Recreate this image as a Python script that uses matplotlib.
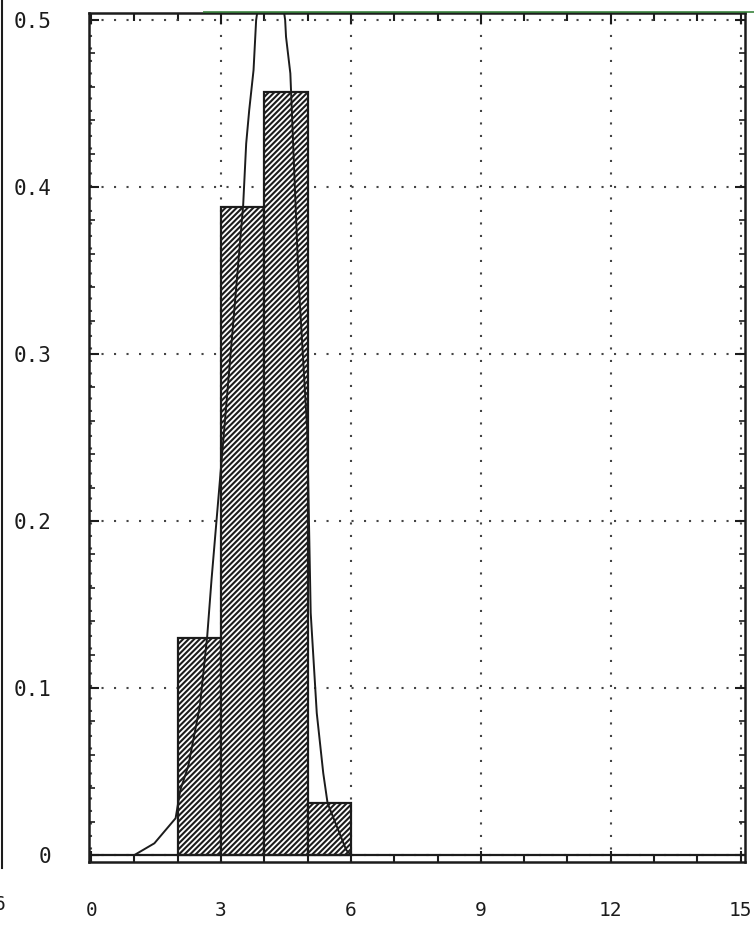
import matplotlib
matplotlib.use('Agg')
import matplotlib.pyplot as plt
from matplotlib.lines import Line2D
from matplotlib.ticker import MultipleLocator

# histogram bins (left edges, width 1) and relative frequencies
bin_left = [2, 3, 4, 5]
bar_heights = [0.13, 0.388, 0.457, 0.031]

# fitted density curve (peak is clipped at the top)
curve_x = [0.0, 1.0, 1.46, 1.95, 2.06, 2.24, 2.51, 2.68, 2.78, 3.51, 3.58, 3.65,
		   3.75, 3.81, 4.15, 4.48, 4.5, 4.6, 4.79, 4.99, 5.07, 5.21, 5.36, 5.46,
		   5.89, 6.0, 15.0]
curve_y = [0.0, 0.0, 0.007, 0.022, 0.039, 0.053, 0.089, 0.131, 0.165, 0.389, 0.426, 0.446,
		   0.47, 0.5, 0.56, 0.5, 0.49, 0.468, 0.344, 0.254, 0.145, 0.085, 0.049, 0.031,
		   0.003, 0.0, 0.0]

x_ticks = [0, 3, 6, 9, 12, 15]
y_ticks = [0, 0.1, 0.2, 0.3, 0.4, 0.5]
y_labels = ['0', '0.1', '0.2', '0.3', '0.4', '0.5']

ink = '#1c1c1c'
mono = ['DejaVu Sans Mono']

plt.rcParams['hatch.linewidth'] = 1.5
plt.rcParams['hatch.color'] = ink

fig = plt.figure(figsize=(7.54, 9.33), dpi=100)
ax = fig.add_axes([89 / 754, 1 - 862 / 933, 656 / 754, 849 / 933])

ax.bar(bin_left, bar_heights, width=1.0, align='edge', facecolor='white',
	   edgecolor=ink, linewidth=1.6, hatch='//////', zorder=2)

ax.plot(curve_x, curve_y, color=ink, linewidth=1.4, zorder=3)
ax.axhline(0, color=ink, linewidth=1.6, zorder=4)

ax.set_xlim(-0.05, 15.1)
ax.set_ylim(-0.0042, 0.5042)

ax.set_xticks(x_ticks)
ax.set_xticklabels([str(t) for t in x_ticks], family=mono, fontsize=14, color=ink)
ax.xaxis.set_minor_locator(MultipleLocator(1))
ax.set_yticks(y_ticks)
ax.set_yticklabels(y_labels, family=mono, fontsize=15, color=ink)
ax.yaxis.set_minor_locator(MultipleLocator(0.02))

ax.tick_params(axis='x', which='major', direction='in', length=8, width=1.5,
			   top=True, bottom=True, pad=28, colors=ink)
ax.tick_params(axis='x', which='minor', direction='in', length=5.5, width=1.5,
			   top=True, bottom=True, colors=ink)
ax.tick_params(axis='y', which='major', direction='in', length=7, width=1.5,
			   left=True, right=True, pad=27, colors=ink)
ax.tick_params(axis='y', which='minor', direction='in', length=4, width=1.2,
			   left=True, right=True, colors=ink)

ax.grid(True, which='major', color='#444444', linewidth=1.5, linestyle=(0, (1, 5)))
for g in ax.get_xgridlines() + ax.get_ygridlines():
	g.set_zorder(1)

for side in ['left', 'right', 'top', 'bottom']:
	ax.spines[side].set_color(ink)
	ax.spines[side].set_linewidth(1.8)

# scan leftovers: neighbouring panel edge, cut-off label and greenish top rule
fig.add_artist(Line2D([0.003, 0.003], [0.07, 1.0], color=ink, linewidth=1.5))
fig.text(0.0, 1 - 905 / 933, '6', family=mono, fontsize=14, color=ink,
		 ha='center', va='center')
fig.add_artist(Line2D([0.27, 1.0], [1 - 12 / 933, 1 - 12 / 933], color='#2e7d32',
					  linewidth=1.4, alpha=0.8))

fig.savefig('out.png', dpi=100)
